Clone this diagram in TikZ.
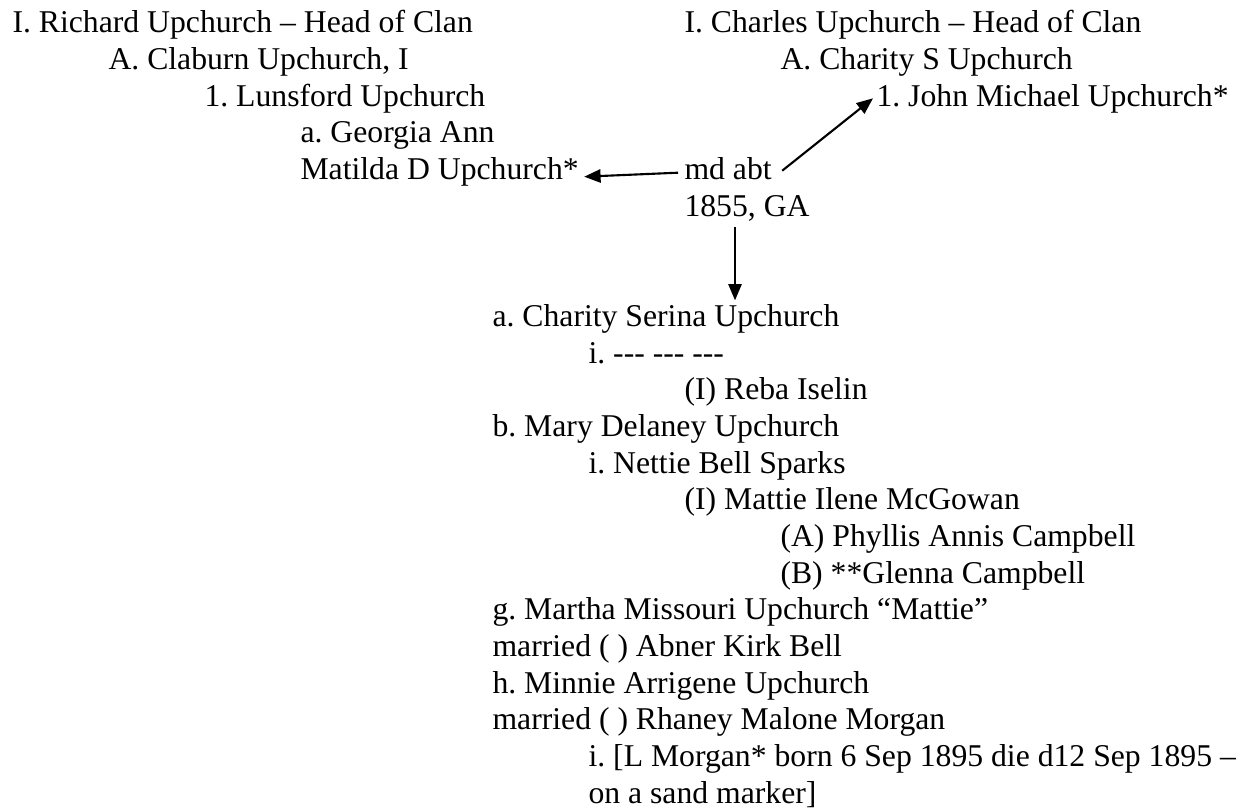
\documentclass[tikz,border=0pt]{standalone}
\usepackage{fontspec}
\setmainfont{Liberation Serif}
\usetikzlibrary{arrows.meta}
\frenchspacing
\begin{document}
\begin{tikzpicture}[x=0.3786pt,y=-0.3786pt,%
        every node/.style={font=\fontsize{12pt}{14pt}\selectfont,anchor=base west,inner sep=0pt},%
        arr/.style={-{Triangle[length=6.2pt,width=5pt]},line width=0.8pt}]%
        \useasboundingbox (0,0) rectangle (1243,810);
        % Richard's line
        \node (rich) at (12,33) {I. Richard Upchurch – Head of Clan};
        \node (clab) at (108,69.7) {A. Claburn Upchurch, I};
        \node (luns) at (204,106.3) {1. Lunsford Upchurch};
        \node (geo) at (300,143) {a. Georgia Ann}; \node (mat) at (300,179.7)
        {Matilda D Upchurch*};
        % Charles's line
        \node (charl) at (684,33) {I. Charles Upchurch – Head of Clan};
        \node (chs) at (780,69.7) {A. Charity S Upchurch};
        \node (john) at (876,106.3) {1. John Michael Upchurch*};
        \node (md) at (684,179.7) {md abt}; \node (yr) at (684,216.3) {1855, GA};
        % children
        \node (chser) at (492,326.4) {a. Charity Serina Upchurch};
        \node (unk) at (588,363) {i. {-}{-}{-} {-}{-}{-} {-}{-}{-}};
        \node (reba) at (684,399.7) {(I) Reba Iselin};
        \node (mary) at (492,436.4) {b. Mary Delaney Upchurch};
        \node (nett) at (588,473) {i. Nettie Bell Sparks};
        \node (mattie) at (684,509.7) {(I) Mattie Ilene McGowan};
        \node (phyl) at (780,546.4) {(A) Phyllis Annis Campbell};
        \node (glen) at (780,583) {(B) **Glenna Campbell};
        \node (martha) at (492,619.7) {g. Martha Missouri Upchurch “Mattie”};
        \node (abner) at (492,656.4) {married ( ) Abner Kirk Bell};
        \node (minnie) at (492,693.1) {h. Minnie Arrigene Upchurch};
        \node (rhaney) at (492,729.7) {married ( ) Rhaney Malone Morgan};
        \node (lmor) at (588,766.4) {i. [L Morgan* born 6 Sep 1895 die d12 Sep 1895 –};
        \node (sand) at (588,803.1) {on a sand marker]};
        % marriage arrows
        \draw[arr] ([shift={(-6,-7)}]md.base west) -- ([shift={(5,-3)}]mat.base east);
        \draw[arr] ([shift={(10,-9)}]md.base east) -- ([shift={(-3,-8)}]john.base west);
        \draw[arr] ([shift={(51,11)}]yr.base west) -- ([shift={(243,-26)}]chser.base west);
      \end{tikzpicture}
\end{document}
